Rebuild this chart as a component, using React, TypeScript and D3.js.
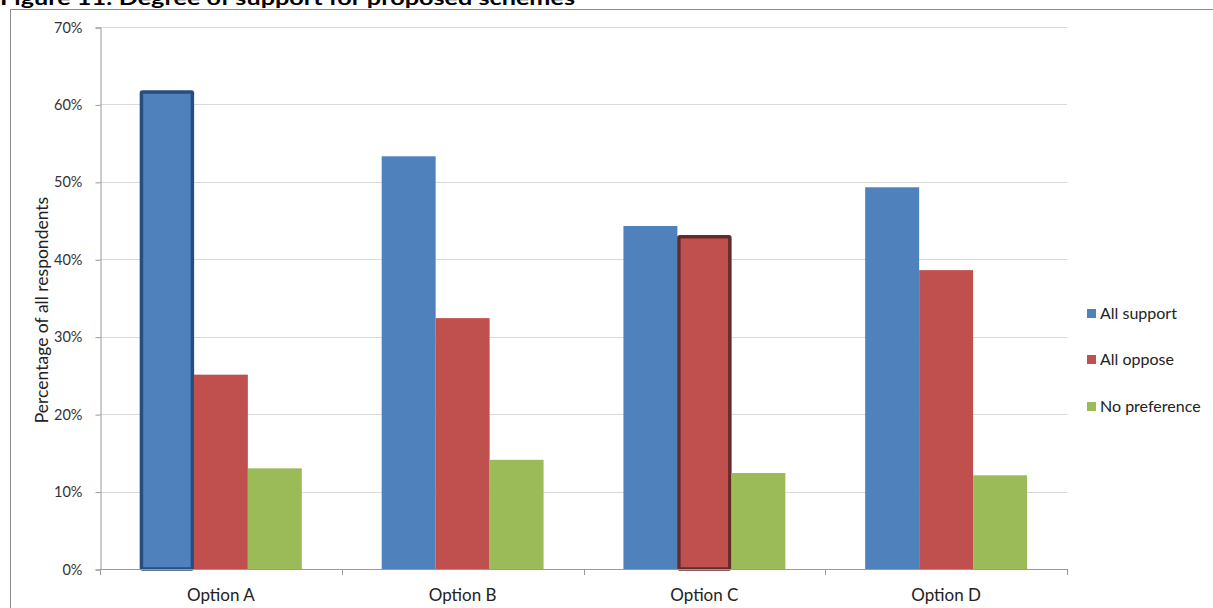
import React, { useEffect, useRef } from "react";
import * as d3 from "d3";

const categories = ["Option A", "Option B", "Option C", "Option D"];
const seriesNames = ["All support", "All oppose", "No preference"];
const allSupport = [0.618, 0.533, 0.443, 0.493];
const allOppose = [0.251, 0.324, 0.431, 0.386];
const noPreference = [0.130, 0.141, 0.124, 0.121];
const yTicks = [0, 0.1, 0.2, 0.3, 0.4, 0.5, 0.6, 0.7];
// highlighted bars: [seriesIndex, categoryIndex]
const highlighted = [[0, 0], [1, 2]];

const colors = ["#4F81BD", "#C0504D", "#9BBB59"];
const borderColors = ["#264D80", "#632A2A", "#5F7530"];

export default function App() {
  const ref = useRef<SVGSVGElement>(null);
  useEffect(() => {
    const svg = d3.select(ref.current);
    svg.selectAll("*").remove();
    const W = 1213, H = 608;
    const left = 100, right = 1067, top = 27, bottom = 569;
    const font = "Lato, 'Open Sans', sans-serif";

    svg.append("rect").attr("width", W).attr("height", H).attr("fill", "#fff");

    // title (cut off at top, as in the source)
    svg.append("text")
      .attr("x", 0).attr("y", 5)
      .attr("font-family", font).attr("font-weight", "bold").attr("font-size", 19)
      .attr("fill", "#000")
      .attr("textLength", 575).attr("lengthAdjust", "spacingAndGlyphs")
      .text("Figure 11: Degree of support for proposed schemes");

    // frame
    svg.append("rect").attr("x", 10.5).attr("y", 9.5).attr("width", W).attr("height", H)
      .attr("fill", "none").attr("stroke", "#8c8c8c").attr("stroke-width", 1);

    const y = d3.scaleLinear().domain([0, 0.7]).range([bottom, top]);
    const x0 = d3.scaleBand<string>().domain(categories).range([left, right]).padding(0);
    const x1 = d3.scaleBand<string>().domain(seriesNames).range([0, x0.bandwidth()]).paddingInner(0).paddingOuter(0.74);

    // gridlines
    svg.append("g").selectAll("line").data(yTicks.filter(t => t > 0)).join("line")
      .attr("x1", left).attr("x2", right)
      .attr("y1", d => Math.round(y(d)) + 0.5).attr("y2", d => Math.round(y(d)) + 0.5)
      .attr("stroke", "#d9d9d9").attr("stroke-width", 1.2);

    // y axis
    const yAxis = d3.axisLeft(y).tickValues(yTicks).tickFormat(d3.format(".0%")).tickSize(5).tickPadding(13);
    const ga = svg.append("g").attr("transform", `translate(${left + 0.5},0.5)`).call(yAxis);
    ga.select(".domain").attr("stroke", "#9a9a9a");
    ga.selectAll(".tick line").attr("stroke", "#9a9a9a");
    ga.selectAll(".tick text").attr("font-family", font).attr("font-size", 14.5).attr("fill", "#333");

    const series = [allSupport, allOppose, noPreference];
    const bars = svg.append("g");
    series.forEach((vals, si) => {
      vals.forEach((v, ci) => {
        const isHl = highlighted.some(h => h[0] === si && h[1] === ci);
        const bx = x0(categories[ci])! + x1(seriesNames[si])!;
        const bw = x1.bandwidth();
        if (isHl) {
          bars.append("rect")
            .attr("x", bx + 1.5).attr("y", y(v) + 1.5)
            .attr("width", bw - 3).attr("height", y(0) - y(v) - 1.5)
            .attr("fill", colors[si]).attr("stroke", borderColors[si]).attr("stroke-width", 3.5)
            .attr("rx", 1);
        } else {
          bars.append("rect")
            .attr("x", bx).attr("y", y(v))
            .attr("width", bw).attr("height", y(0) - y(v))
            .attr("fill", colors[si]);
        }
      });
    });

    // x axis
    const xAxisG = svg.append("g");
    xAxisG.append("line").attr("x1", left).attr("x2", right).attr("y1", bottom + 0.5).attr("y2", bottom + 0.5)
      .attr("stroke", "#9a9a9a");
    const boundaries = [...categories.map(c => x0(c)!), right];
    xAxisG.selectAll("line.tk").data(boundaries).join("line").attr("class", "tk")
      .attr("x1", d => Math.round(d) + 0.5).attr("x2", d => Math.round(d) + 0.5)
      .attr("y1", bottom).attr("y2", bottom + 6).attr("stroke", "#9a9a9a");
    xAxisG.selectAll("text").data(categories).join("text")
      .attr("x", d => x0(d)! + x0.bandwidth() / 2)
      .attr("y", bottom + 32)
      .attr("text-anchor", "middle")
      .attr("font-family", font).attr("font-size", 17).attr("fill", "#222")
      .text(d => d);

    // y label
    svg.append("text")
      .attr("transform", `translate(48,${(top + bottom) / 2 + 12}) rotate(-90)`)
      .attr("text-anchor", "middle")
      .attr("font-family", font).attr("font-size", 17.5).attr("fill", "#222")
      .text("Percentage of all respondents");

    // legend
    const legendY = [314, 360, 407];
    const lg = svg.append("g");
    seriesNames.forEach((n, i) => {
      lg.append("rect").attr("x", 1087).attr("y", legendY[i] - 5).attr("width", 9).attr("height", 9)
        .attr("fill", colors[i]);
      lg.append("text").attr("x", 1100).attr("y", legendY[i] + 5)
        .attr("font-family", font).attr("font-size", 16).attr("fill", "#222").text(n);
    });
  }, []);
  return (
    <svg ref={ref} width={1213} height={608}
      style={{ position: "absolute", left: 0, top: 0, display: "block" }} />
  );
}
